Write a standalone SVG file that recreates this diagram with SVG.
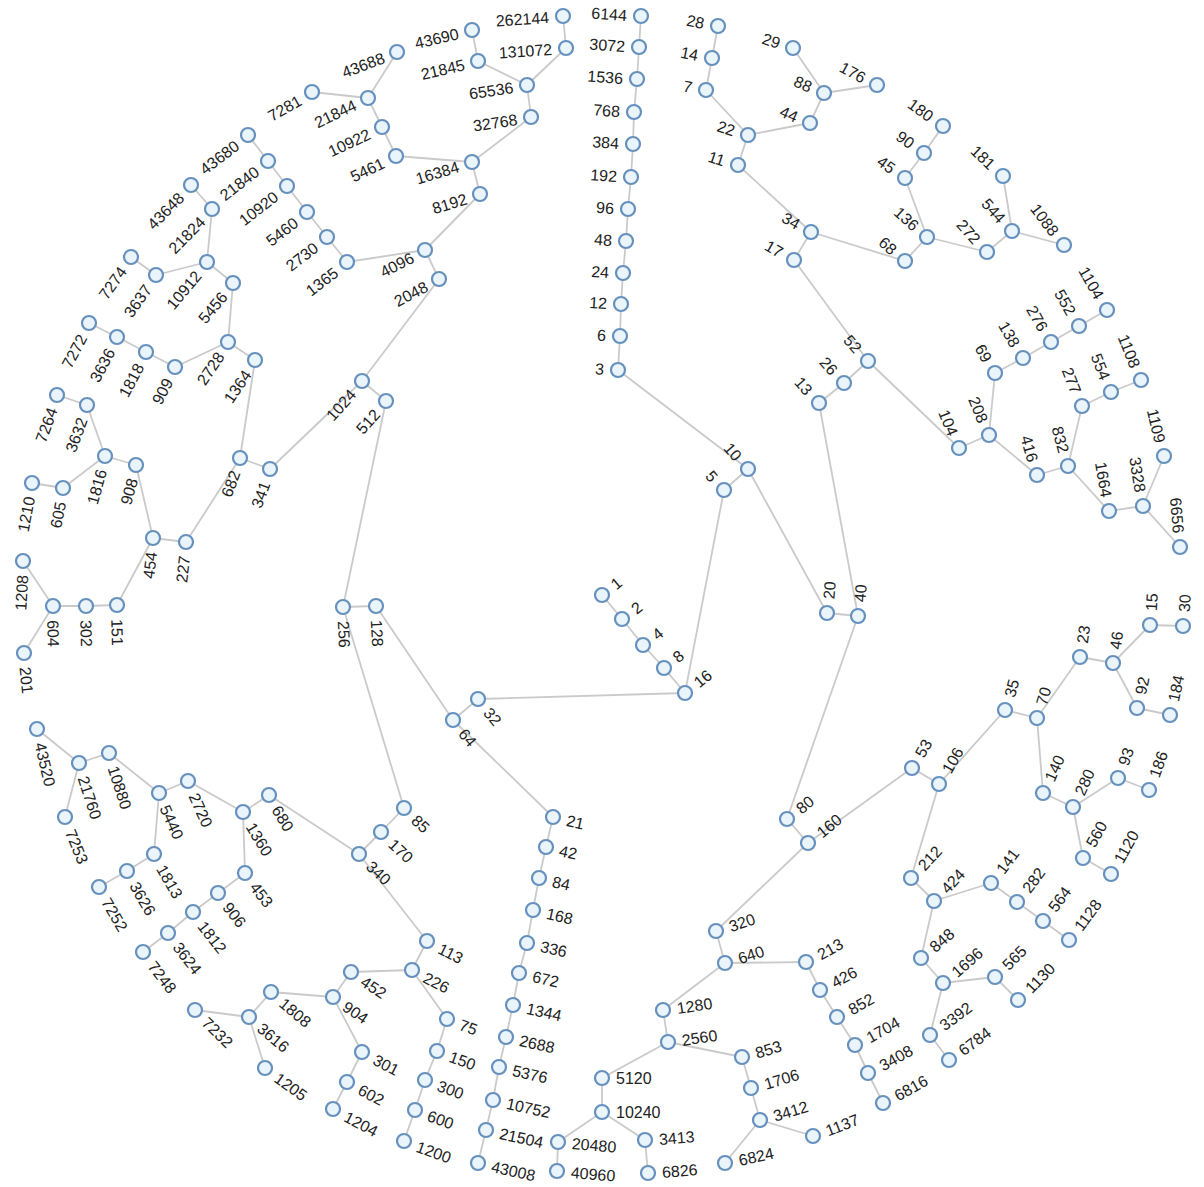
<svg xmlns="http://www.w3.org/2000/svg" width="1204" height="1187" viewBox="0 0 1204 1187">
<style>
.bg{fill:#ffffff}
.links line{stroke:#cacaca;stroke-width:1.8;fill:none}
.nodes circle{fill:#eaf4fb;stroke:#6690bd;stroke-width:2.2}
.nodes text{font-family:"Liberation Sans",Arial,Helvetica,sans-serif;font-size:16px;fill:#222}
.e{text-anchor:end}
.s{text-anchor:start}
</style>
<rect class="bg" width="1204" height="1187"/>
<g id="links" class="links">
<line x1="602" y1="595" x2="622" y2="619"/>
<line x1="622" y1="619" x2="643" y2="645"/>
<line x1="643" y1="645" x2="664" y2="668"/>
<line x1="664" y1="668" x2="685" y2="693"/>
<line x1="685" y1="693" x2="478" y2="699"/>
<line x1="685" y1="693" x2="724" y2="490"/>
<line x1="478" y1="699" x2="453" y2="720"/>
<line x1="453" y1="720" x2="376" y2="606"/>
<line x1="453" y1="720" x2="553" y2="817"/>
<line x1="376" y1="606" x2="343" y2="607"/>
<line x1="343" y1="607" x2="386" y2="401"/>
<line x1="343" y1="607" x2="404" y2="808"/>
<line x1="386" y1="401" x2="362" y2="381"/>
<line x1="362" y1="381" x2="439" y2="279"/>
<line x1="362" y1="381" x2="270" y2="469"/>
<line x1="439" y1="279" x2="425" y2="250"/>
<line x1="425" y1="250" x2="480" y2="194"/>
<line x1="425" y1="250" x2="347" y2="262"/>
<line x1="480" y1="194" x2="472" y2="162"/>
<line x1="472" y1="162" x2="531" y2="117"/>
<line x1="472" y1="162" x2="396" y2="156"/>
<line x1="531" y1="117" x2="527" y2="85"/>
<line x1="527" y1="85" x2="566" y2="48"/>
<line x1="527" y1="85" x2="478" y2="61"/>
<line x1="566" y1="48" x2="563" y2="16"/>
<line x1="478" y1="61" x2="472" y2="30"/>
<line x1="396" y1="156" x2="382" y2="127"/>
<line x1="382" y1="127" x2="368" y2="98"/>
<line x1="368" y1="98" x2="397" y2="52"/>
<line x1="368" y1="98" x2="312" y2="92"/>
<line x1="347" y1="262" x2="327" y2="237"/>
<line x1="327" y1="237" x2="307" y2="212"/>
<line x1="307" y1="212" x2="287" y2="186"/>
<line x1="287" y1="186" x2="268" y2="161"/>
<line x1="268" y1="161" x2="248" y2="135"/>
<line x1="270" y1="469" x2="240" y2="458"/>
<line x1="240" y1="458" x2="255" y2="360"/>
<line x1="240" y1="458" x2="186" y2="542"/>
<line x1="255" y1="360" x2="228" y2="342"/>
<line x1="228" y1="342" x2="233" y2="283"/>
<line x1="228" y1="342" x2="175" y2="367"/>
<line x1="233" y1="283" x2="207" y2="262"/>
<line x1="207" y1="262" x2="212" y2="209"/>
<line x1="207" y1="262" x2="156" y2="275"/>
<line x1="212" y1="209" x2="191" y2="185"/>
<line x1="156" y1="275" x2="131" y2="257"/>
<line x1="175" y1="367" x2="146" y2="352"/>
<line x1="146" y1="352" x2="117" y2="337"/>
<line x1="117" y1="337" x2="89" y2="323"/>
<line x1="186" y1="542" x2="153" y2="538"/>
<line x1="153" y1="538" x2="136" y2="465"/>
<line x1="153" y1="538" x2="117" y2="605"/>
<line x1="136" y1="465" x2="105" y2="456"/>
<line x1="105" y1="456" x2="87" y2="405"/>
<line x1="105" y1="456" x2="63" y2="488"/>
<line x1="87" y1="405" x2="57" y2="395"/>
<line x1="63" y1="488" x2="32" y2="483"/>
<line x1="117" y1="605" x2="86" y2="606"/>
<line x1="86" y1="606" x2="53" y2="606"/>
<line x1="53" y1="606" x2="23" y2="561"/>
<line x1="53" y1="606" x2="24" y2="653"/>
<line x1="404" y1="808" x2="381" y2="832"/>
<line x1="381" y1="832" x2="359" y2="854"/>
<line x1="359" y1="854" x2="269" y2="795"/>
<line x1="359" y1="854" x2="427" y2="941"/>
<line x1="269" y1="795" x2="243" y2="812"/>
<line x1="243" y1="812" x2="188" y2="781"/>
<line x1="243" y1="812" x2="245" y2="873"/>
<line x1="188" y1="781" x2="159" y2="793"/>
<line x1="159" y1="793" x2="109" y2="753"/>
<line x1="159" y1="793" x2="154" y2="854"/>
<line x1="109" y1="753" x2="79" y2="763"/>
<line x1="79" y1="763" x2="37" y2="729"/>
<line x1="79" y1="763" x2="65" y2="817"/>
<line x1="154" y1="854" x2="127" y2="871"/>
<line x1="127" y1="871" x2="99" y2="887"/>
<line x1="245" y1="873" x2="218" y2="893"/>
<line x1="218" y1="893" x2="193" y2="912"/>
<line x1="193" y1="912" x2="168" y2="933"/>
<line x1="168" y1="933" x2="143" y2="952"/>
<line x1="427" y1="941" x2="412" y2="970"/>
<line x1="412" y1="970" x2="351" y2="972"/>
<line x1="412" y1="970" x2="447" y2="1019"/>
<line x1="351" y1="972" x2="333" y2="997"/>
<line x1="333" y1="997" x2="271" y2="992"/>
<line x1="333" y1="997" x2="362" y2="1052"/>
<line x1="271" y1="992" x2="249" y2="1017"/>
<line x1="249" y1="1017" x2="195" y2="1010"/>
<line x1="249" y1="1017" x2="265" y2="1068"/>
<line x1="362" y1="1052" x2="347" y2="1082"/>
<line x1="347" y1="1082" x2="333" y2="1109"/>
<line x1="447" y1="1019" x2="437" y2="1051"/>
<line x1="437" y1="1051" x2="425" y2="1080"/>
<line x1="425" y1="1080" x2="415" y2="1110"/>
<line x1="415" y1="1110" x2="404" y2="1141"/>
<line x1="553" y1="817" x2="546" y2="847"/>
<line x1="546" y1="847" x2="539" y2="878"/>
<line x1="539" y1="878" x2="533" y2="910"/>
<line x1="533" y1="910" x2="527" y2="943"/>
<line x1="527" y1="943" x2="519" y2="973"/>
<line x1="519" y1="973" x2="513" y2="1005"/>
<line x1="513" y1="1005" x2="506" y2="1037"/>
<line x1="506" y1="1037" x2="499" y2="1067"/>
<line x1="499" y1="1067" x2="493" y2="1100"/>
<line x1="493" y1="1100" x2="486" y2="1130"/>
<line x1="486" y1="1130" x2="478" y2="1163"/>
<line x1="724" y1="490" x2="748" y2="469"/>
<line x1="748" y1="469" x2="827" y2="613"/>
<line x1="748" y1="469" x2="618" y2="370"/>
<line x1="618" y1="370" x2="620" y2="336"/>
<line x1="620" y1="336" x2="621" y2="304"/>
<line x1="621" y1="304" x2="623" y2="273"/>
<line x1="623" y1="273" x2="626" y2="241"/>
<line x1="626" y1="241" x2="628" y2="209"/>
<line x1="628" y1="209" x2="631" y2="177"/>
<line x1="631" y1="177" x2="633" y2="144"/>
<line x1="633" y1="144" x2="634" y2="112"/>
<line x1="634" y1="112" x2="637" y2="79"/>
<line x1="637" y1="79" x2="639" y2="47"/>
<line x1="639" y1="47" x2="641" y2="16"/>
<line x1="827" y1="613" x2="858" y2="616"/>
<line x1="858" y1="616" x2="787" y2="819"/>
<line x1="858" y1="616" x2="819" y2="403"/>
<line x1="787" y1="819" x2="808" y2="843"/>
<line x1="808" y1="843" x2="716" y2="931"/>
<line x1="808" y1="843" x2="912" y2="768"/>
<line x1="716" y1="931" x2="725" y2="963"/>
<line x1="725" y1="963" x2="663" y2="1010"/>
<line x1="725" y1="963" x2="806" y2="962"/>
<line x1="663" y1="1010" x2="668" y2="1042"/>
<line x1="668" y1="1042" x2="602" y2="1078"/>
<line x1="668" y1="1042" x2="742" y2="1057"/>
<line x1="602" y1="1078" x2="602" y2="1112"/>
<line x1="602" y1="1112" x2="558" y2="1142"/>
<line x1="602" y1="1112" x2="645" y2="1140"/>
<line x1="558" y1="1142" x2="557" y2="1171"/>
<line x1="645" y1="1140" x2="648" y2="1173"/>
<line x1="742" y1="1057" x2="751" y2="1088"/>
<line x1="751" y1="1088" x2="760" y2="1120"/>
<line x1="760" y1="1120" x2="725" y2="1163"/>
<line x1="760" y1="1120" x2="813" y2="1136"/>
<line x1="806" y1="962" x2="820" y2="990"/>
<line x1="820" y1="990" x2="837" y2="1017"/>
<line x1="837" y1="1017" x2="855" y2="1045"/>
<line x1="855" y1="1045" x2="868" y2="1073"/>
<line x1="868" y1="1073" x2="883" y2="1103"/>
<line x1="912" y1="768" x2="939" y2="784"/>
<line x1="939" y1="784" x2="911" y2="878"/>
<line x1="939" y1="784" x2="1005" y2="710"/>
<line x1="911" y1="878" x2="934" y2="901"/>
<line x1="934" y1="901" x2="921" y2="958"/>
<line x1="934" y1="901" x2="991" y2="883"/>
<line x1="921" y1="958" x2="943" y2="983"/>
<line x1="943" y1="983" x2="930" y2="1035"/>
<line x1="943" y1="983" x2="995" y2="977"/>
<line x1="930" y1="1035" x2="949" y2="1060"/>
<line x1="995" y1="977" x2="1018" y2="1000"/>
<line x1="991" y1="883" x2="1017" y2="902"/>
<line x1="1017" y1="902" x2="1043" y2="921"/>
<line x1="1043" y1="921" x2="1069" y2="940"/>
<line x1="1005" y1="710" x2="1037" y2="718"/>
<line x1="1037" y1="718" x2="1043" y2="793"/>
<line x1="1037" y1="718" x2="1080" y2="657"/>
<line x1="1043" y1="793" x2="1073" y2="807"/>
<line x1="1073" y1="807" x2="1083" y2="858"/>
<line x1="1073" y1="807" x2="1118" y2="778"/>
<line x1="1083" y1="858" x2="1111" y2="874"/>
<line x1="1118" y1="778" x2="1149" y2="790"/>
<line x1="1080" y1="657" x2="1113" y2="663"/>
<line x1="1113" y1="663" x2="1137" y2="708"/>
<line x1="1113" y1="663" x2="1150" y2="625"/>
<line x1="1137" y1="708" x2="1170" y2="715"/>
<line x1="1150" y1="625" x2="1183" y2="626"/>
<line x1="819" y1="403" x2="844" y2="383"/>
<line x1="844" y1="383" x2="868" y2="361"/>
<line x1="868" y1="361" x2="959" y2="448"/>
<line x1="868" y1="361" x2="794" y2="260"/>
<line x1="959" y1="448" x2="989" y2="435"/>
<line x1="989" y1="435" x2="1037" y2="475"/>
<line x1="989" y1="435" x2="995" y2="373"/>
<line x1="1037" y1="475" x2="1068" y2="466"/>
<line x1="1068" y1="466" x2="1109" y2="511"/>
<line x1="1068" y1="466" x2="1082" y2="406"/>
<line x1="1109" y1="511" x2="1143" y2="506"/>
<line x1="1143" y1="506" x2="1180" y2="547"/>
<line x1="1143" y1="506" x2="1164" y2="456"/>
<line x1="1082" y1="406" x2="1111" y2="392"/>
<line x1="1111" y1="392" x2="1141" y2="380"/>
<line x1="995" y1="373" x2="1023" y2="358"/>
<line x1="1023" y1="358" x2="1051" y2="342"/>
<line x1="1051" y1="342" x2="1079" y2="326"/>
<line x1="1079" y1="326" x2="1107" y2="310"/>
<line x1="794" y1="260" x2="811" y2="232"/>
<line x1="811" y1="232" x2="905" y2="261"/>
<line x1="811" y1="232" x2="738" y2="165"/>
<line x1="905" y1="261" x2="927" y2="237"/>
<line x1="927" y1="237" x2="987" y2="252"/>
<line x1="927" y1="237" x2="905" y2="178"/>
<line x1="987" y1="252" x2="1012" y2="231"/>
<line x1="1012" y1="231" x2="1064" y2="245"/>
<line x1="1012" y1="231" x2="1003" y2="176"/>
<line x1="905" y1="178" x2="924" y2="153"/>
<line x1="924" y1="153" x2="943" y2="126"/>
<line x1="738" y1="165" x2="748" y2="135"/>
<line x1="748" y1="135" x2="810" y2="123"/>
<line x1="748" y1="135" x2="706" y2="90"/>
<line x1="810" y1="123" x2="824" y2="93"/>
<line x1="824" y1="93" x2="877" y2="85"/>
<line x1="824" y1="93" x2="793" y2="48"/>
<line x1="706" y1="90" x2="712" y2="58"/>
<line x1="712" y1="58" x2="718" y2="26"/>
</g>
<g id="nodes" class="nodes">
<g id="n1" transform="translate(602,595)"><circle r="7"/><text class="s" transform="rotate(-40)" x="14" y="6">1</text></g>
<g id="n2" transform="translate(622,619)"><circle r="7"/><text class="s" transform="rotate(-38.7)" x="14" y="6">2</text></g>
<g id="n4" transform="translate(643,645)"><circle r="7"/><text class="s" transform="rotate(-38.8)" x="14" y="6">4</text></g>
<g id="n8" transform="translate(664,668)"><circle r="7"/><text class="s" transform="rotate(-40)" x="14" y="6">8</text></g>
<g id="n16" transform="translate(685,693)"><circle r="7"/><text class="s" transform="rotate(-40)" x="14" y="6">16</text></g>
<g id="n32" transform="translate(478,699)"><circle r="7"/><text class="s" transform="rotate(49.7)" x="14" y="6">32</text></g>
<g id="n64" transform="translate(453,720)"><circle r="7"/><text class="s" transform="rotate(49.8)" x="14" y="6">64</text></g>
<g id="n128" transform="translate(376,606)"><circle r="7"/><text class="s" transform="rotate(87)" x="14" y="6">128</text></g>
<g id="n256" transform="translate(343,607)"><circle r="7"/><text class="s" transform="rotate(87.1)" x="14" y="6">256</text></g>
<g id="n512" transform="translate(386,401)"><circle r="7"/><text class="e" transform="rotate(-48.2)" x="-14" y="6">512</text></g>
<g id="n1024" transform="translate(362,381)"><circle r="7"/><text class="e" transform="rotate(-48.4)" x="-14" y="6">1024</text></g>
<g id="n2048" transform="translate(439,279)"><circle r="7"/><text class="e" transform="rotate(-27.4)" x="-14" y="6">2048</text></g>
<g id="n4096" transform="translate(425,250)"><circle r="7"/><text class="e" transform="rotate(-27.2)" x="-14" y="6">4096</text></g>
<g id="n8192" transform="translate(480,194)"><circle r="7"/><text class="e" transform="rotate(-17)" x="-14" y="6">8192</text></g>
<g id="n16384" transform="translate(472,162)"><circle r="7"/><text class="e" transform="rotate(-16.7)" x="-14" y="6">16384</text></g>
<g id="n32768" transform="translate(531,117)"><circle r="7"/><text class="e" transform="rotate(-8.5)" x="-14" y="6">32768</text></g>
<g id="n65536" transform="translate(527,85)"><circle r="7"/><text class="e" transform="rotate(-8.4)" x="-14" y="6">65536</text></g>
<g id="n131072" transform="translate(566,48)"><circle r="7"/><text class="e" transform="rotate(-3.8)" x="-14" y="6">131072</text></g>
<g id="n262144" transform="translate(563,16)"><circle r="7"/><text class="e" transform="rotate(-3.9)" x="-14" y="6">262144</text></g>
<g id="n21845" transform="translate(478,61)"><circle r="7"/><text class="e" transform="rotate(-13.1)" x="-14" y="6">21845</text></g>
<g id="n43690" transform="translate(472,30)"><circle r="7"/><text class="e" transform="rotate(-13)" x="-14" y="6">43690</text></g>
<g id="n5461" transform="translate(396,156)"><circle r="7"/><text class="e" transform="rotate(-25.2)" x="-14" y="6">5461</text></g>
<g id="n10922" transform="translate(382,127)"><circle r="7"/><text class="e" transform="rotate(-25.2)" x="-14" y="6">10922</text></g>
<g id="n21844" transform="translate(368,98)"><circle r="7"/><text class="e" transform="rotate(-25.3)" x="-14" y="6">21844</text></g>
<g id="n43688" transform="translate(397,52)"><circle r="7"/><text class="e" transform="rotate(-20.7)" x="-14" y="6">43688</text></g>
<g id="n7281" transform="translate(312,92)"><circle r="7"/><text class="e" transform="rotate(-30)" x="-14" y="6">7281</text></g>
<g id="n1365" transform="translate(347,262)"><circle r="7"/><text class="e" transform="rotate(-37.5)" x="-14" y="6">1365</text></g>
<g id="n2730" transform="translate(327,237)"><circle r="7"/><text class="e" transform="rotate(-37.6)" x="-14" y="6">2730</text></g>
<g id="n5460" transform="translate(307,212)"><circle r="7"/><text class="e" transform="rotate(-37.7)" x="-14" y="6">5460</text></g>
<g id="n10920" transform="translate(287,186)"><circle r="7"/><text class="e" transform="rotate(-37.7)" x="-14" y="6">10920</text></g>
<g id="n21840" transform="translate(268,161)"><circle r="7"/><text class="e" transform="rotate(-37.6)" x="-14" y="6">21840</text></g>
<g id="n43680" transform="translate(248,135)"><circle r="7"/><text class="e" transform="rotate(-37.6)" x="-14" y="6">43680</text></g>
<g id="n341" transform="translate(270,469)"><circle r="7"/><text class="e" transform="rotate(-69.4)" x="-14" y="6">341</text></g>
<g id="n682" transform="translate(240,458)"><circle r="7"/><text class="e" transform="rotate(-69.4)" x="-14" y="6">682</text></g>
<g id="n1364" transform="translate(255,360)"><circle r="7"/><text class="e" transform="rotate(-56)" x="-14" y="6">1364</text></g>
<g id="n2728" transform="translate(228,342)"><circle r="7"/><text class="e" transform="rotate(-56)" x="-14" y="6">2728</text></g>
<g id="n5456" transform="translate(233,283)"><circle r="7"/><text class="e" transform="rotate(-49.9)" x="-14" y="6">5456</text></g>
<g id="n10912" transform="translate(207,262)"><circle r="7"/><text class="e" transform="rotate(-50)" x="-14" y="6">10912</text></g>
<g id="n21824" transform="translate(212,209)"><circle r="7"/><text class="e" transform="rotate(-45.4)" x="-14" y="6">21824</text></g>
<g id="n43648" transform="translate(191,185)"><circle r="7"/><text class="e" transform="rotate(-45.1)" x="-14" y="6">43648</text></g>
<g id="n3637" transform="translate(156,275)"><circle r="7"/><text class="e" transform="rotate(-54.4)" x="-14" y="6">3637</text></g>
<g id="n7274" transform="translate(131,257)"><circle r="7"/><text class="e" transform="rotate(-54.4)" x="-14" y="6">7274</text></g>
<g id="n909" transform="translate(175,367)"><circle r="7"/><text class="e" transform="rotate(-62)" x="-14" y="6">909</text></g>
<g id="n1818" transform="translate(146,352)"><circle r="7"/><text class="e" transform="rotate(-62)" x="-14" y="6">1818</text></g>
<g id="n3636" transform="translate(117,337)"><circle r="7"/><text class="e" transform="rotate(-62)" x="-14" y="6">3636</text></g>
<g id="n7272" transform="translate(89,323)"><circle r="7"/><text class="e" transform="rotate(-62)" x="-14" y="6">7272</text></g>
<g id="n227" transform="translate(186,542)"><circle r="7"/><text class="e" transform="rotate(-82.9)" x="-14" y="6">227</text></g>
<g id="n454" transform="translate(153,538)"><circle r="7"/><text class="e" transform="rotate(-82.9)" x="-14" y="6">454</text></g>
<g id="n908" transform="translate(136,465)"><circle r="7"/><text class="e" transform="rotate(-74.5)" x="-14" y="6">908</text></g>
<g id="n1816" transform="translate(105,456)"><circle r="7"/><text class="e" transform="rotate(-74.5)" x="-14" y="6">1816</text></g>
<g id="n3632" transform="translate(87,405)"><circle r="7"/><text class="e" transform="rotate(-69.8)" x="-14" y="6">3632</text></g>
<g id="n7264" transform="translate(57,395)"><circle r="7"/><text class="e" transform="rotate(-69.9)" x="-14" y="6">7264</text></g>
<g id="n605" transform="translate(63,488)"><circle r="7"/><text class="e" transform="rotate(-78.9)" x="-14" y="6">605</text></g>
<g id="n1210" transform="translate(32,483)"><circle r="7"/><text class="e" transform="rotate(-79)" x="-14" y="6">1210</text></g>
<g id="n151" transform="translate(117,605)"><circle r="7"/><text class="s" transform="rotate(88.7)" x="14" y="6">151</text></g>
<g id="n302" transform="translate(86,606)"><circle r="7"/><text class="s" transform="rotate(88.7)" x="14" y="6">302</text></g>
<g id="n604" transform="translate(53,606)"><circle r="7"/><text class="s" transform="rotate(88.7)" x="14" y="6">604</text></g>
<g id="n1208" transform="translate(23,561)"><circle r="7"/><text class="e" transform="rotate(-86.7)" x="-14" y="6">1208</text></g>
<g id="n201" transform="translate(24,653)"><circle r="7"/><text class="s" transform="rotate(84.2)" x="14" y="6">201</text></g>
<g id="n85" transform="translate(404,808)"><circle r="7"/><text class="s" transform="rotate(42.8)" x="14" y="6">85</text></g>
<g id="n170" transform="translate(381,832)"><circle r="7"/><text class="s" transform="rotate(42.9)" x="14" y="6">170</text></g>
<g id="n340" transform="translate(359,854)"><circle r="7"/><text class="s" transform="rotate(43.1)" x="14" y="6">340</text></g>
<g id="n680" transform="translate(269,795)"><circle r="7"/><text class="s" transform="rotate(58.9)" x="14" y="6">680</text></g>
<g id="n1360" transform="translate(243,812)"><circle r="7"/><text class="s" transform="rotate(58.7)" x="14" y="6">1360</text></g>
<g id="n2720" transform="translate(188,781)"><circle r="7"/><text class="s" transform="rotate(65.7)" x="14" y="6">2720</text></g>
<g id="n5440" transform="translate(159,793)"><circle r="7"/><text class="s" transform="rotate(65.8)" x="14" y="6">5440</text></g>
<g id="n10880" transform="translate(109,753)"><circle r="7"/><text class="s" transform="rotate(72.1)" x="14" y="6">10880</text></g>
<g id="n21760" transform="translate(79,763)"><circle r="7"/><text class="s" transform="rotate(72.1)" x="14" y="6">21760</text></g>
<g id="n43520" transform="translate(37,729)"><circle r="7"/><text class="s" transform="rotate(76.6)" x="14" y="6">43520</text></g>
<g id="n7253" transform="translate(65,817)"><circle r="7"/><text class="s" transform="rotate(67.5)" x="14" y="6">7253</text></g>
<g id="n1813" transform="translate(154,854)"><circle r="7"/><text class="s" transform="rotate(59.9)" x="14" y="6">1813</text></g>
<g id="n3626" transform="translate(127,871)"><circle r="7"/><text class="s" transform="rotate(59.7)" x="14" y="6">3626</text></g>
<g id="n7252" transform="translate(99,887)"><circle r="7"/><text class="s" transform="rotate(59.8)" x="14" y="6">7252</text></g>
<g id="n453" transform="translate(245,873)"><circle r="7"/><text class="s" transform="rotate(52)" x="14" y="6">453</text></g>
<g id="n906" transform="translate(218,893)"><circle r="7"/><text class="s" transform="rotate(52.1)" x="14" y="6">906</text></g>
<g id="n1812" transform="translate(193,912)"><circle r="7"/><text class="s" transform="rotate(52.1)" x="14" y="6">1812</text></g>
<g id="n3624" transform="translate(168,933)"><circle r="7"/><text class="s" transform="rotate(52)" x="14" y="6">3624</text></g>
<g id="n7248" transform="translate(143,952)"><circle r="7"/><text class="s" transform="rotate(52)" x="14" y="6">7248</text></g>
<g id="n113" transform="translate(427,941)"><circle r="7"/><text class="s" transform="rotate(26.8)" x="14" y="6">113</text></g>
<g id="n226" transform="translate(412,970)"><circle r="7"/><text class="s" transform="rotate(26.8)" x="14" y="6">226</text></g>
<g id="n452" transform="translate(351,972)"><circle r="7"/><text class="s" transform="rotate(33.6)" x="14" y="6">452</text></g>
<g id="n904" transform="translate(333,997)"><circle r="7"/><text class="s" transform="rotate(33.7)" x="14" y="6">904</text></g>
<g id="n1808" transform="translate(271,992)"><circle r="7"/><text class="s" transform="rotate(39.8)" x="14" y="6">1808</text></g>
<g id="n3616" transform="translate(249,1017)"><circle r="7"/><text class="s" transform="rotate(39.8)" x="14" y="6">3616</text></g>
<g id="n7232" transform="translate(195,1010)"><circle r="7"/><text class="s" transform="rotate(44.4)" x="14" y="6">7232</text></g>
<g id="n1205" transform="translate(265,1068)"><circle r="7"/><text class="s" transform="rotate(35.4)" x="14" y="6">1205</text></g>
<g id="n301" transform="translate(362,1052)"><circle r="7"/><text class="s" transform="rotate(27.6)" x="14" y="6">301</text></g>
<g id="n602" transform="translate(347,1082)"><circle r="7"/><text class="s" transform="rotate(27.6)" x="14" y="6">602</text></g>
<g id="n1204" transform="translate(333,1109)"><circle r="7"/><text class="s" transform="rotate(27.6)" x="14" y="6">1204</text></g>
<g id="n75" transform="translate(447,1019)"><circle r="7"/><text class="s" transform="rotate(20)" x="14" y="6">75</text></g>
<g id="n150" transform="translate(437,1051)"><circle r="7"/><text class="s" transform="rotate(19.9)" x="14" y="6">150</text></g>
<g id="n300" transform="translate(425,1080)"><circle r="7"/><text class="s" transform="rotate(20)" x="14" y="6">300</text></g>
<g id="n600" transform="translate(415,1110)"><circle r="7"/><text class="s" transform="rotate(19.9)" x="14" y="6">600</text></g>
<g id="n1200" transform="translate(404,1141)"><circle r="7"/><text class="s" transform="rotate(19.9)" x="14" y="6">1200</text></g>
<g id="n21" transform="translate(553,817)"><circle r="7"/><text class="s" transform="rotate(12.4)" x="14" y="6">21</text></g>
<g id="n42" transform="translate(546,847)"><circle r="7"/><text class="s" transform="rotate(12.5)" x="14" y="6">42</text></g>
<g id="n84" transform="translate(539,878)"><circle r="7"/><text class="s" transform="rotate(12.5)" x="14" y="6">84</text></g>
<g id="n168" transform="translate(533,910)"><circle r="7"/><text class="s" transform="rotate(12.3)" x="14" y="6">168</text></g>
<g id="n336" transform="translate(527,943)"><circle r="7"/><text class="s" transform="rotate(12.1)" x="14" y="6">336</text></g>
<g id="n672" transform="translate(519,973)"><circle r="7"/><text class="s" transform="rotate(12.4)" x="14" y="6">672</text></g>
<g id="n1344" transform="translate(513,1005)"><circle r="7"/><text class="s" transform="rotate(12.2)" x="14" y="6">1344</text></g>
<g id="n2688" transform="translate(506,1037)"><circle r="7"/><text class="s" transform="rotate(12.2)" x="14" y="6">2688</text></g>
<g id="n5376" transform="translate(499,1067)"><circle r="7"/><text class="s" transform="rotate(12.3)" x="14" y="6">5376</text></g>
<g id="n10752" transform="translate(493,1100)"><circle r="7"/><text class="s" transform="rotate(12.2)" x="14" y="6">10752</text></g>
<g id="n21504" transform="translate(486,1130)"><circle r="7"/><text class="s" transform="rotate(12.2)" x="14" y="6">21504</text></g>
<g id="n43008" transform="translate(478,1163)"><circle r="7"/><text class="s" transform="rotate(12.3)" x="14" y="6">43008</text></g>
<g id="n5" transform="translate(724,490)"><circle r="7"/><text class="e" transform="rotate(49.6)" x="-14" y="6">5</text></g>
<g id="n10" transform="translate(748,469)"><circle r="7"/><text class="e" transform="rotate(49.4)" x="-14" y="6">10</text></g>
<g id="n3" transform="translate(618,370)"><circle r="7"/><text class="e" transform="rotate(4.1)" x="-14" y="6">3</text></g>
<g id="n6" transform="translate(620,336)"><circle r="7"/><text class="e" transform="rotate(4)" x="-14" y="6">6</text></g>
<g id="n12" transform="translate(621,304)"><circle r="7"/><text class="e" transform="rotate(3.7)" x="-14" y="6">12</text></g>
<g id="n24" transform="translate(623,273)"><circle r="7"/><text class="e" transform="rotate(3.7)" x="-14" y="6">24</text></g>
<g id="n48" transform="translate(626,241)"><circle r="7"/><text class="e" transform="rotate(3.9)" x="-14" y="6">48</text></g>
<g id="n96" transform="translate(628,209)"><circle r="7"/><text class="e" transform="rotate(3.9)" x="-14" y="6">96</text></g>
<g id="n192" transform="translate(631,177)"><circle r="7"/><text class="e" transform="rotate(4)" x="-14" y="6">192</text></g>
<g id="n384" transform="translate(633,144)"><circle r="7"/><text class="e" transform="rotate(3.9)" x="-14" y="6">384</text></g>
<g id="n768" transform="translate(634,112)"><circle r="7"/><text class="e" transform="rotate(3.8)" x="-14" y="6">768</text></g>
<g id="n1536" transform="translate(637,79)"><circle r="7"/><text class="e" transform="rotate(3.9)" x="-14" y="6">1536</text></g>
<g id="n3072" transform="translate(639,47)"><circle r="7"/><text class="e" transform="rotate(3.9)" x="-14" y="6">3072</text></g>
<g id="n6144" transform="translate(641,16)"><circle r="7"/><text class="e" transform="rotate(3.9)" x="-14" y="6">6144</text></g>
<g id="n20" transform="translate(827,613)"><circle r="7"/><text class="s" transform="rotate(-85.2)" x="14" y="6">20</text></g>
<g id="n40" transform="translate(858,616)"><circle r="7"/><text class="s" transform="rotate(-85.1)" x="14" y="6">40</text></g>
<g id="n80" transform="translate(787,819)"><circle r="7"/><text class="s" transform="rotate(-39.4)" x="14" y="6">80</text></g>
<g id="n160" transform="translate(808,843)"><circle r="7"/><text class="s" transform="rotate(-39.6)" x="14" y="6">160</text></g>
<g id="n320" transform="translate(716,931)"><circle r="7"/><text class="s" transform="rotate(-18.7)" x="14" y="6">320</text></g>
<g id="n640" transform="translate(725,963)"><circle r="7"/><text class="s" transform="rotate(-18.4)" x="14" y="6">640</text></g>
<g id="n1280" transform="translate(663,1010)"><circle r="7"/><text class="s" transform="rotate(-8.3)" x="14" y="6">1280</text></g>
<g id="n2560" transform="translate(668,1042)"><circle r="7"/><text class="s" transform="rotate(-8.4)" x="14" y="6">2560</text></g>
<g id="n5120" transform="translate(602,1078)"><circle r="7"/><text class="s" x="14" y="6">5120</text></g>
<g id="n10240" transform="translate(602,1112)"><circle r="7"/><text class="s" x="14" y="6">10240</text></g>
<g id="n20480" transform="translate(558,1142)"><circle r="7"/><text class="s" transform="rotate(4.6)" x="14" y="6">20480</text></g>
<g id="n40960" transform="translate(557,1171)"><circle r="7"/><text class="s" transform="rotate(4.5)" x="14" y="6">40960</text></g>
<g id="n3413" transform="translate(645,1140)"><circle r="7"/><text class="s" transform="rotate(-4.5)" x="14" y="6">3413</text></g>
<g id="n6826" transform="translate(648,1173)"><circle r="7"/><text class="s" transform="rotate(-4.5)" x="14" y="6">6826</text></g>
<g id="n853" transform="translate(742,1057)"><circle r="7"/><text class="s" transform="rotate(-16.8)" x="14" y="6">853</text></g>
<g id="n1706" transform="translate(751,1088)"><circle r="7"/><text class="s" transform="rotate(-16.8)" x="14" y="6">1706</text></g>
<g id="n3412" transform="translate(760,1120)"><circle r="7"/><text class="s" transform="rotate(-16.7)" x="14" y="6">3412</text></g>
<g id="n6824" transform="translate(725,1163)"><circle r="7"/><text class="s" transform="rotate(-12.2)" x="14" y="6">6824</text></g>
<g id="n1137" transform="translate(813,1136)"><circle r="7"/><text class="s" transform="rotate(-21.3)" x="14" y="6">1137</text></g>
<g id="n213" transform="translate(806,962)"><circle r="7"/><text class="s" transform="rotate(-29)" x="14" y="6">213</text></g>
<g id="n426" transform="translate(820,990)"><circle r="7"/><text class="s" transform="rotate(-28.8)" x="14" y="6">426</text></g>
<g id="n852" transform="translate(837,1017)"><circle r="7"/><text class="s" transform="rotate(-29.1)" x="14" y="6">852</text></g>
<g id="n1704" transform="translate(855,1045)"><circle r="7"/><text class="s" transform="rotate(-29.3)" x="14" y="6">1704</text></g>
<g id="n3408" transform="translate(868,1073)"><circle r="7"/><text class="s" transform="rotate(-29)" x="14" y="6">3408</text></g>
<g id="n6816" transform="translate(883,1103)"><circle r="7"/><text class="s" transform="rotate(-28.9)" x="14" y="6">6816</text></g>
<g id="n53" transform="translate(912,768)"><circle r="7"/><text class="s" transform="rotate(-60.7)" x="14" y="6">53</text></g>
<g id="n106" transform="translate(939,784)"><circle r="7"/><text class="s" transform="rotate(-60.6)" x="14" y="6">106</text></g>
<g id="n212" transform="translate(911,878)"><circle r="7"/><text class="s" transform="rotate(-47.4)" x="14" y="6">212</text></g>
<g id="n424" transform="translate(934,901)"><circle r="7"/><text class="s" transform="rotate(-47.2)" x="14" y="6">424</text></g>
<g id="n848" transform="translate(921,958)"><circle r="7"/><text class="s" transform="rotate(-41.2)" x="14" y="6">848</text></g>
<g id="n1696" transform="translate(943,983)"><circle r="7"/><text class="s" transform="rotate(-41.2)" x="14" y="6">1696</text></g>
<g id="n3392" transform="translate(930,1035)"><circle r="7"/><text class="s" transform="rotate(-36.6)" x="14" y="6">3392</text></g>
<g id="n6784" transform="translate(949,1060)"><circle r="7"/><text class="s" transform="rotate(-36.7)" x="14" y="6">6784</text></g>
<g id="n565" transform="translate(995,977)"><circle r="7"/><text class="s" transform="rotate(-45.7)" x="14" y="6">565</text></g>
<g id="n1130" transform="translate(1018,1000)"><circle r="7"/><text class="s" transform="rotate(-45.7)" x="14" y="6">1130</text></g>
<g id="n141" transform="translate(991,883)"><circle r="7"/><text class="s" transform="rotate(-53.4)" x="14" y="6">141</text></g>
<g id="n282" transform="translate(1017,902)"><circle r="7"/><text class="s" transform="rotate(-53.4)" x="14" y="6">282</text></g>
<g id="n564" transform="translate(1043,921)"><circle r="7"/><text class="s" transform="rotate(-53.4)" x="14" y="6">564</text></g>
<g id="n1128" transform="translate(1069,940)"><circle r="7"/><text class="s" transform="rotate(-53.5)" x="14" y="6">1128</text></g>
<g id="n35" transform="translate(1005,710)"><circle r="7"/><text class="s" transform="rotate(-73.9)" x="14" y="6">35</text></g>
<g id="n70" transform="translate(1037,718)"><circle r="7"/><text class="s" transform="rotate(-74.1)" x="14" y="6">70</text></g>
<g id="n140" transform="translate(1043,793)"><circle r="7"/><text class="s" transform="rotate(-65.7)" x="14" y="6">140</text></g>
<g id="n280" transform="translate(1073,807)"><circle r="7"/><text class="s" transform="rotate(-65.7)" x="14" y="6">280</text></g>
<g id="n560" transform="translate(1083,858)"><circle r="7"/><text class="s" transform="rotate(-61.2)" x="14" y="6">560</text></g>
<g id="n1120" transform="translate(1111,874)"><circle r="7"/><text class="s" transform="rotate(-61.2)" x="14" y="6">1120</text></g>
<g id="n93" transform="translate(1118,778)"><circle r="7"/><text class="s" transform="rotate(-70.4)" x="14" y="6">93</text></g>
<g id="n186" transform="translate(1149,790)"><circle r="7"/><text class="s" transform="rotate(-70.3)" x="14" y="6">186</text></g>
<g id="n23" transform="translate(1080,657)"><circle r="7"/><text class="s" transform="rotate(-82.5)" x="14" y="6">23</text></g>
<g id="n46" transform="translate(1113,663)"><circle r="7"/><text class="s" transform="rotate(-82.3)" x="14" y="6">46</text></g>
<g id="n92" transform="translate(1137,708)"><circle r="7"/><text class="s" transform="rotate(-78)" x="14" y="6">92</text></g>
<g id="n184" transform="translate(1170,715)"><circle r="7"/><text class="s" transform="rotate(-78)" x="14" y="6">184</text></g>
<g id="n15" transform="translate(1150,625)"><circle r="7"/><text class="s" transform="rotate(-86.8)" x="14" y="6">15</text></g>
<g id="n30" transform="translate(1183,626)"><circle r="7"/><text class="s" transform="rotate(-86.8)" x="14" y="6">30</text></g>
<g id="n13" transform="translate(819,403)"><circle r="7"/><text class="e" transform="rotate(48.6)" x="-14" y="6">13</text></g>
<g id="n26" transform="translate(844,383)"><circle r="7"/><text class="e" transform="rotate(48.9)" x="-14" y="6">26</text></g>
<g id="n52" transform="translate(868,361)"><circle r="7"/><text class="e" transform="rotate(48.8)" x="-14" y="6">52</text></g>
<g id="n104" transform="translate(959,448)"><circle r="7"/><text class="e" transform="rotate(67.8)" x="-14" y="6">104</text></g>
<g id="n208" transform="translate(989,435)"><circle r="7"/><text class="e" transform="rotate(67.7)" x="-14" y="6">208</text></g>
<g id="n416" transform="translate(1037,475)"><circle r="7"/><text class="e" transform="rotate(74.7)" x="-14" y="6">416</text></g>
<g id="n832" transform="translate(1068,466)"><circle r="7"/><text class="e" transform="rotate(74.6)" x="-14" y="6">832</text></g>
<g id="n1664" transform="translate(1109,511)"><circle r="7"/><text class="e" transform="rotate(80.7)" x="-14" y="6">1664</text></g>
<g id="n3328" transform="translate(1143,506)"><circle r="7"/><text class="e" transform="rotate(80.8)" x="-14" y="6">3328</text></g>
<g id="n6656" transform="translate(1180,547)"><circle r="7"/><text class="e" transform="rotate(85.4)" x="-14" y="6">6656</text></g>
<g id="n1109" transform="translate(1164,456)"><circle r="7"/><text class="e" transform="rotate(76.2)" x="-14" y="6">1109</text></g>
<g id="n277" transform="translate(1082,406)"><circle r="7"/><text class="e" transform="rotate(68.6)" x="-14" y="6">277</text></g>
<g id="n554" transform="translate(1111,392)"><circle r="7"/><text class="e" transform="rotate(68.4)" x="-14" y="6">554</text></g>
<g id="n1108" transform="translate(1141,380)"><circle r="7"/><text class="e" transform="rotate(68.3)" x="-14" y="6">1108</text></g>
<g id="n69" transform="translate(995,373)"><circle r="7"/><text class="e" transform="rotate(60.6)" x="-14" y="6">69</text></g>
<g id="n138" transform="translate(1023,358)"><circle r="7"/><text class="e" transform="rotate(60.7)" x="-14" y="6">138</text></g>
<g id="n276" transform="translate(1051,342)"><circle r="7"/><text class="e" transform="rotate(60.7)" x="-14" y="6">276</text></g>
<g id="n552" transform="translate(1079,326)"><circle r="7"/><text class="e" transform="rotate(60.7)" x="-14" y="6">552</text></g>
<g id="n1104" transform="translate(1107,310)"><circle r="7"/><text class="e" transform="rotate(60.6)" x="-14" y="6">1104</text></g>
<g id="n17" transform="translate(794,260)"><circle r="7"/><text class="e" transform="rotate(29.9)" x="-14" y="6">17</text></g>
<g id="n34" transform="translate(811,232)"><circle r="7"/><text class="e" transform="rotate(30)" x="-14" y="6">34</text></g>
<g id="n68" transform="translate(905,261)"><circle r="7"/><text class="e" transform="rotate(42.3)" x="-14" y="6">68</text></g>
<g id="n136" transform="translate(927,237)"><circle r="7"/><text class="e" transform="rotate(42.3)" x="-14" y="6">136</text></g>
<g id="n272" transform="translate(987,252)"><circle r="7"/><text class="e" transform="rotate(48.4)" x="-14" y="6">272</text></g>
<g id="n544" transform="translate(1012,231)"><circle r="7"/><text class="e" transform="rotate(48.5)" x="-14" y="6">544</text></g>
<g id="n1088" transform="translate(1064,245)"><circle r="7"/><text class="e" transform="rotate(53.1)" x="-14" y="6">1088</text></g>
<g id="n181" transform="translate(1003,176)"><circle r="7"/><text class="e" transform="rotate(43.8)" x="-14" y="6">181</text></g>
<g id="n45" transform="translate(905,178)"><circle r="7"/><text class="e" transform="rotate(36.1)" x="-14" y="6">45</text></g>
<g id="n90" transform="translate(924,153)"><circle r="7"/><text class="e" transform="rotate(36.1)" x="-14" y="6">90</text></g>
<g id="n180" transform="translate(943,126)"><circle r="7"/><text class="e" transform="rotate(36.1)" x="-14" y="6">180</text></g>
<g id="n11" transform="translate(738,165)"><circle r="7"/><text class="e" transform="rotate(17.6)" x="-14" y="6">11</text></g>
<g id="n22" transform="translate(748,135)"><circle r="7"/><text class="e" transform="rotate(17.6)" x="-14" y="6">22</text></g>
<g id="n44" transform="translate(810,123)"><circle r="7"/><text class="e" transform="rotate(23.8)" x="-14" y="6">44</text></g>
<g id="n88" transform="translate(824,93)"><circle r="7"/><text class="e" transform="rotate(23.9)" x="-14" y="6">88</text></g>
<g id="n176" transform="translate(877,85)"><circle r="7"/><text class="e" transform="rotate(28.4)" x="-14" y="6">176</text></g>
<g id="n29" transform="translate(793,48)"><circle r="7"/><text class="e" transform="rotate(19.3)" x="-14" y="6">29</text></g>
<g id="n7" transform="translate(706,90)"><circle r="7"/><text class="e" transform="rotate(11.7)" x="-14" y="6">7</text></g>
<g id="n14" transform="translate(712,58)"><circle r="7"/><text class="e" transform="rotate(11.6)" x="-14" y="6">14</text></g>
<g id="n28" transform="translate(718,26)"><circle r="7"/><text class="e" transform="rotate(11.5)" x="-14" y="6">28</text></g>
</g>
</svg>
